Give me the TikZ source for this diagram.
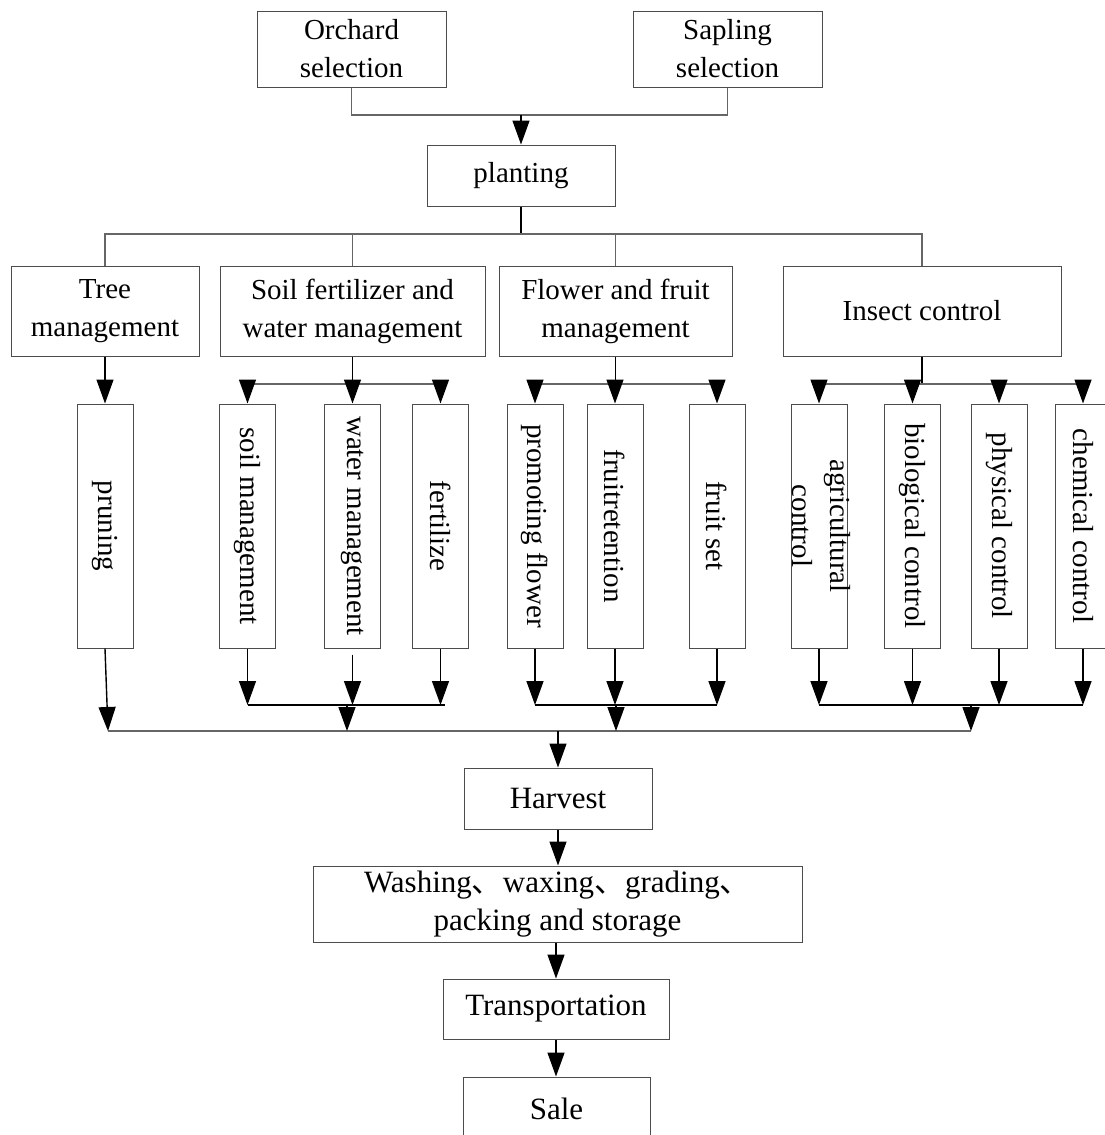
\documentclass[tikz,border=0pt]{standalone}
\usepackage{fontspec}
\setmainfont{Liberation Serif}
\newfontfamily\cjk{Noto Sans CJK SC}
\usepackage{graphicx}
\usetikzlibrary{arrows.meta}

\newcommand{\vtext}[1]{\rotatebox{-90}{#1}}

\begin{document}
\begin{tikzpicture}[x=1pt,y=-1pt,
    box/.style={draw=black!70,line width=1pt,inner sep=0pt,align=center,font=\fontsize{29}{38}\selectfont},
    vbox/.style={box,minimum width=56pt,minimum height=244pt},
    lowbox/.style={box,font=\fontsize{31}{38}\selectfont},
    bus/.style={draw=black!60,line width=1.2pt},
    line/.style={line width=1.4pt},
    arr/.style={line width=1.4pt,-{Triangle[length=24pt,width=17pt]}}]
  \useasboundingbox (0,0) rectangle (1105,1135);

  % top
  \node[box,minimum width=189pt,minimum height=76pt] (orchard) at (351.5,49) {Orchard\\selection};
  \node[box,minimum width=189pt,minimum height=76pt] (sapling) at (727.5,49) {Sapling\\selection};
  \node[box,minimum width=188pt,minimum height=61pt] (planting) at (521,175.5) {planting};

  \coordinate (top) at (521,115);
  \draw[bus] (orchard.south) |- (top) -| (sapling.south);
  \draw[arr] (top) -- (planting.north);

  % management
  \node[box,minimum width=188pt,minimum height=90pt] (tree) at (105,311) {Tree\\management};
  \node[box,minimum width=265pt,minimum height=90pt] (soil) at (352.5,311) {Soil fertilizer and\\water management};
  \node[box,minimum width=233pt,minimum height=90pt] (flower) at (615.5,311) {Flower and fruit\\management};
  \node[box,minimum width=278pt,minimum height=90pt] (insect) at (922,311) {Insect control};

  \coordinate (bus1) at (521,234);
  \draw[line] (planting.south) -- (bus1);
  \draw[bus] (tree.north) |- (bus1) -| (insect.north);
  \draw[bus] (soil.north) -- (soil.north |- bus1);
  \draw[bus] (flower.north) -- (flower.north |- bus1);

  % measures
  \node[vbox] (pruning) at (105,526) {\vtext{pruning}};
  \node[vbox] (soilm) at (247.5,526) {\vtext{soil management}};
  \node[vbox] (water) at (352.5,526) {\vtext{water management}};
  \node[vbox] (fert) at (440.5,526) {\vtext{fertilize}};
  \node[vbox] (promo) at (535,526) {\vtext{promoting flower}};
  \node[vbox] (reten) at (615,526) {\vtext{fruitretention}};
  \node[vbox] (fset) at (717,526) {\vtext{fruit set}};
  \node[vbox] (agri) at (819,526) {\makebox[0pt]{\vtext{\begin{tabular}{@{}c@{}}agricultural\\control\end{tabular}}}};
  \node[vbox] (bio) at (912.5,526) {\vtext{biological control}};
  \node[vbox] (phys) at (999,526) {\vtext{physical control}};
  \node[vbox] (chem) at (1083,526) {\vtext{chemical control}};

  \coordinate (sub) at (0,384);
  \draw[arr] (tree.south) -- (pruning.north);
  \draw[line] (soil.south) -- (soil.south |- sub);
  \draw[line] (flower.south) -- (flower.south |- sub);
  \draw[line] (insect.south) -- (insect.south |- sub);
  \draw[bus] (soilm.north |- sub) -- (fert.north |- sub);
  \draw[bus] (promo.north |- sub) -- (fset.north |- sub);
  \draw[bus] (agri.north |- sub) -- (chem.north |- sub);
  \foreach \n in {soilm,water,fert,promo,reten,fset,agri,bio,phys,chem}
    \draw[arr] (\n.north |- sub) -- (\n.north);

  % gathering
  \coordinate (low) at (0,705);
  \coordinate (mainL) at (108,731);
  \coordinate (mainR) at (971,731);
  \foreach \n in {soilm,fert,promo,reten,fset,agri,bio,phys,chem}
    \draw[arr] (\n.south) -- (\n.south |- low);
  \draw[arr,shorten <=6pt] (water.south) -- (water.south |- low);
  \draw[line] (soilm.south |- low) -- (445,705);
  \draw[line] (promo.south |- low) -- (fset.south |- low);
  \draw[line] (agri.south |- low) -- (chem.south |- low);
  \coordinate (g1) at (347,705);
  \coordinate (g2) at (616,705);
  \coordinate (g3) at (971,705);
  \draw[bus] (mainL) -- (mainR);
  \draw[arr] (pruning.south) -- (mainL);
  \foreach \g in {g1,g2,g3}
    \draw[arr] (\g) -- (\g |- mainL);

  % after harvest
  \node[lowbox,minimum width=188pt,minimum height=61pt] (harvest) at (558,798.5) {Harvest};
  \node[lowbox,minimum width=489pt,minimum height=76pt] (wash) at (557.5,904) {Washing{\cjk 、}waxing{\cjk 、}grading{\cjk 、}\\packing and storage};
  \node[lowbox,minimum width=226pt,minimum height=60pt] (trans) at (556,1009) {Transportation};
  \node[lowbox,minimum width=187pt,minimum height=63pt] (sale) at (556.5,1108.5) {Sale};

  \draw[arr] (harvest.north |- mainL) -- (harvest.north);
  \draw[arr] (harvest.south) -- (harvest.south |- wash.north);
  \draw[arr] (wash.south -| trans.north) -- (trans.north);
  \draw[arr] (trans.south) -- (trans.south |- sale.north);
\end{tikzpicture}
\end{document}
